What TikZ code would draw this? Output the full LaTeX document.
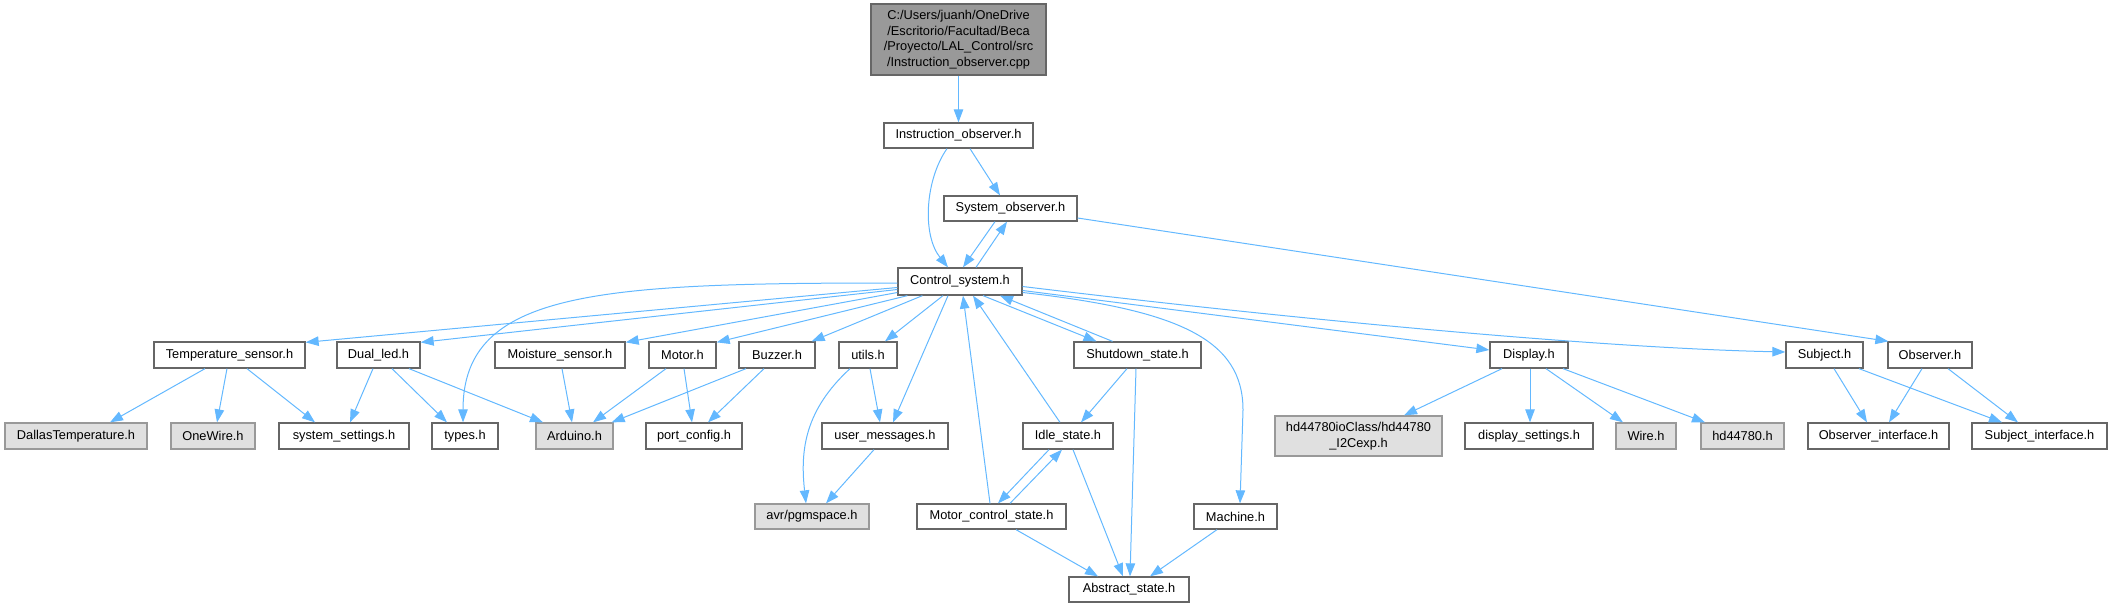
\documentclass[tikz,border=0pt]{standalone}
\usepackage{fontspec}
\setmainfont{Liberation Sans}
\usetikzlibrary{arrows.meta,calc}
\definecolor{edgec}{HTML}{63B8FF}
\definecolor{bord}{HTML}{666666}
\definecolor{extb}{HTML}{999999}
\definecolor{extf}{HTML}{E0E0E0}
\definecolor{rootf}{HTML}{999999}
\begin{document}
\begin{tikzpicture}[x=1pt,y=-1pt,
 nd/.style={draw=bord, fill=white, line width=1.3pt, inner sep=0pt, font=\fontsize{12.8}{15.5}\selectfont, minimum height=26pt},
 ext/.style={nd, draw=extb, fill=extf},
 dep/.style={draw=edgec, line width=1pt, -{Triangle[length=13pt,width=9.5pt]}}
]
\useasboundingbox (0,0) rectangle (2112,608);

% top
\node[nd, fill=rootf, minimum width=175pt, minimum height=71pt, align=center] (root) at (958.5,39.5) {C:/Users/juanh/OneDrive\\/Escritorio/Facultad/Beca\\/Proyecto/LAL\_Control/src\\/Instruction\_observer.cpp};
\node[nd, minimum width=149pt, minimum height=25pt] (instr) at (958.5,135.5) {Instruction\_observer.h};
\node[nd, minimum width=133pt, minimum height=25pt] (sysobs) at (1010.5,208.5) {System\_observer.h};
\node[nd, minimum width=124pt, minimum height=27pt] (ctrl) at (960,281.5) {Control\_system.h};

% row 1
\node[nd, minimum width=151pt] (temp) at (229.5,355) {Temperature\_sensor.h};
\node[nd, minimum width=83pt] (dual) at (378.5,355) {Dual\_led.h};
\node[nd, minimum width=130pt] (moist) at (560,355) {Moisture\_sensor.h};
\node[nd, minimum width=67pt] (motor) at (682.5,355) {Motor.h};
\node[nd, minimum width=76pt] (buzzer) at (777,355) {Buzzer.h};
\node[nd, minimum width=58pt] (utils) at (868,355) {utils.h};
\node[nd, minimum width=127pt] (shutdown) at (1137.5,355) {Shutdown\_state.h};
\node[nd, minimum width=78pt] (display) at (1529,355) {Display.h};
\node[nd, minimum width=77pt] (subject) at (1824.5,355) {Subject.h};
\node[nd, minimum width=84pt] (observer) at (1930,355) {Observer.h};

% row 2
\node[ext, minimum width=142pt] (dallas) at (76,436) {DallasTemperature.h};
\node[ext, minimum width=84pt] (onewire) at (213,436) {OneWire.h};
\node[nd, minimum width=130pt] (syss) at (344,436) {system\_settings.h};
\node[nd, minimum width=66pt] (types) at (465,436) {types.h};
\node[ext, minimum width=77pt] (arduino) at (574.5,436) {Arduino.h};
\node[nd, minimum width=96pt] (portc) at (694,436) {port\_config.h};
\node[nd, minimum width=126pt] (umsg) at (885,436) {user\_messages.h};
\node[nd, minimum width=90pt] (idle) at (1068,436) {Idle\_state.h};
\node[ext, minimum width=167pt, minimum height=40pt, align=center] (hdio) at (1358.5,436) {hd44780ioClass/hd44780\\\_I2Cexp.h};
\node[nd, minimum width=128pt] (dsets) at (1529,436) {display\_settings.h};
\node[ext, minimum width=60pt] (wire) at (1646,436) {Wire.h};
\node[ext, minimum width=83pt] (hd) at (1742.5,436) {hd44780.h};
\node[nd, minimum width=141pt] (obsif) at (1878.5,436) {Observer\_interface.h};
\node[nd, minimum width=135pt] (subif) at (2039.5,436) {Subject\_interface.h};

% row 3
\node[ext, minimum width=114pt, minimum height=25pt] (avr) at (812,516.5) {avr/pgmspace.h};
\node[nd, minimum width=149pt, minimum height=25pt] (mctl) at (991.5,516.5) {Motor\_control\_state.h};
\node[nd, minimum width=83pt, minimum height=25pt] (machine) at (1235.5,516.5) {Machine.h};

% row 4
\node[nd, minimum width=120pt, minimum height=25pt] (abst) at (1129,589.5) {Abstract\_state.h};

% edges top
\draw[dep] (root.south) -- (instr.north);
\draw[dep] ($(instr.south)+(-11.5,0)$) .. controls (925,180) and (922,235) .. ($(ctrl.north)+(-12,0)$);
\draw[dep] ($(instr.south)+(11.5,0)$) -- ($(sysobs.north)+(-10.5,0)$);
\draw[dep] ($(sysobs.south)+(-15.5,0)$) -- ($(ctrl.north)+(3,0)$);
\draw[dep] ($(ctrl.north)+(16,0)$) -- ($(sysobs.south)+(-3.5,0)$);
\draw[dep] ($(sysobs.east)+(0,9.5)$) -- ($(observer.north west)+(1,0)$);

% edges from ctrl
\draw[dep] ($(ctrl.west)+(0,6)$) -- ($(temp.north east)+(0,1)$);
\draw[dep] ($(ctrl.west)+(0,8)$) -- ($(dual.north east)+(0,1)$);
\draw[dep] ($(ctrl.west)+(0,1.5)$) .. controls (600,283) and (463,290) .. ($(types.north)+(-2,0)$);
\draw[dep] ($(ctrl.west)+(0,11)$) -- ($(moist.north east)+(0,1)$);
\draw[dep] ($(ctrl.south west)+(10,0)$) -- ($(motor.north east)+(0,1)$);
\draw[dep] ($(ctrl.south west)+(25,0)$) -- ($(buzzer.north east)+(-4,0)$);
\draw[dep] ($(ctrl.south)+(-17,0)$) -- ($(utils.north)+(17,0)$);
\draw[dep] ($(ctrl.south)+(-12,0)$) -- ($(umsg.north)+(8,0)$);
\draw[dep] ($(ctrl.south)+(23,0)$) -- ($(shutdown.north)+(-41,0)$);
\draw[dep] ($(shutdown.north)+(-25,0)$) -- ($(ctrl.south)+(40,0)$);
\draw[dep] ($(idle.north)+(-8,0)$) -- ($(ctrl.south)+(13,0)$);
\draw[dep] ($(mctl.north)+(-1.5,0)$) -- ($(ctrl.south)+(3,0)$);
\draw[dep] ($(ctrl.east)+(0,11)$) .. controls (1180,310) and (1243,340) .. (1243,410) -- ($(machine.north)+(4.5,0)$);
\draw[dep] ($(ctrl.east)+(0,9)$) -- ($(display.west)+(0,-5)$);
\draw[dep] ($(ctrl.east)+(0,5)$) .. controls (1300,320) and (1600,348) .. ($(subject.west)+(0,-3)$);

% row1 -> row2
\draw[dep] ($(temp.south)+(-24.5,0)$) -- ($(dallas.north)+(34,0)$);
\draw[dep] ($(temp.south)+(-2.5,0)$) -- ($(onewire.north)+(4,0)$);
\draw[dep] ($(temp.south)+(17.5,0)$) -- ($(syss.north)+(-29,0)$);
\draw[dep] ($(dual.south)+(-5.5,0)$) -- ($(syss.north)+(6,0)$);
\draw[dep] ($(dual.south)+(13.5,0)$) -- ($(types.north)+(-18,0)$);
\draw[dep] ($(dual.south)+(30.5,0)$) -- ($(arduino.north)+(-31.5,0)$);
\draw[dep] ($(moist.south)+(2,0)$) -- ($(arduino.north)+(-2.5,0)$);
\draw[dep] ($(motor.south)+(-16.5,0)$) -- ($(arduino.north)+(18.5,0)$);
\draw[dep] ($(motor.south)+(1.5,0)$) -- ($(portc.north)+(-2,0)$);
\draw[dep] ($(buzzer.south)+(-31,0)$) -- ($(arduino.north east)+(-2,0)$);
\draw[dep] ($(buzzer.south)+(-13,0)$) -- ($(portc.north)+(14,0)$);
\draw[dep] ($(utils.south)+(2,0)$) -- ($(umsg.north)+(-5,0)$);
\draw[dep] ($(utils.south)+(-18,0)$) .. controls (805,410) and (800,450) .. ($(avr.north)+(-6,0)$);
\draw[dep] ($(umsg.south)+(-11,0)$) -- ($(avr.north)+(14,0)$);
\draw[dep] ($(shutdown.south)+(-10.5,0)$) -- ($(idle.north)+(13,0)$);
\draw[dep] ($(shutdown.south)+(-1.5,0)$) -- ($(abst.north)+(1,0)$);
\draw[dep] ($(idle.south)+(-19,0)$) -- ($(mctl.north)+(6.5,0)$);
\draw[dep] ($(mctl.north)+(18.5,0)$) -- ($(idle.south)+(-6,0)$);
\draw[dep] ($(idle.south)+(5,0)$) -- ($(abst.north)+(-6,0)$);
\draw[dep] ($(mctl.south)+(24.5,0)$) -- ($(abst.north)+(-31,0)$);
\draw[dep] ($(machine.south)+(-18.5,0)$) -- ($(abst.north)+(21,0)$);
\draw[dep] ($(display.south)+(-27,0)$) -- ($(hdio.north)+(45.5,0)$);
\draw[dep] ($(display.south)+(1,0)$) -- ($(dsets.north)+(1,0)$);
\draw[dep] ($(display.south)+(17,0)$) -- ($(wire.north)+(-23,0)$);
\draw[dep] ($(display.south)+(34,0)$) -- ($(hd.north)+(-37.5,0)$);
\draw[dep] ($(subject.south)+(9.5,0)$) -- ($(obsif.north)+(-11.5,0)$);
\draw[dep] ($(subject.south)+(34.5,0)$) -- ($(subif.north)+(-37.5,0)$);
\draw[dep] ($(observer.south)+(-8,0)$) -- ($(obsif.north)+(10.5,0)$);
\draw[dep] ($(observer.south)+(18,0)$) -- ($(subif.north)+(-21.5,0)$);
\end{tikzpicture}
\end{document}
